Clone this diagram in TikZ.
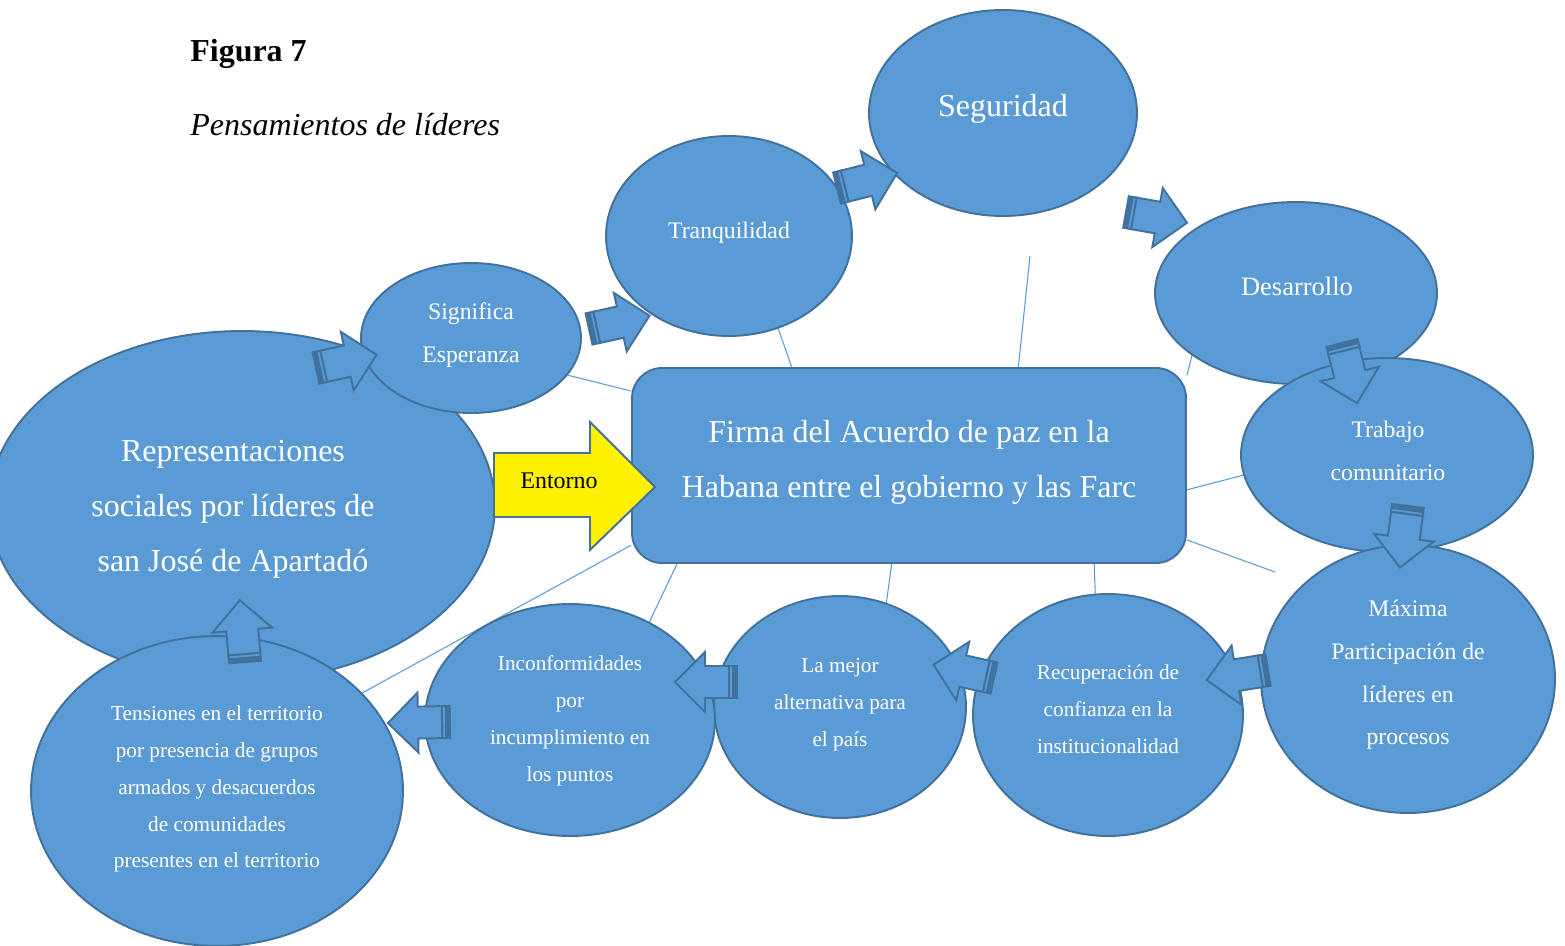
\documentclass[tikz,border=0pt]{standalone}
\usepackage{fontspec}
\setmainfont{Liberation Serif}
\usetikzlibrary{shapes.geometric}
\definecolor{blueF}{HTML}{5B9BD5}
\definecolor{bord}{HTML}{41719C}
\definecolor{lineB}{HTML}{5B9BD5}
\pgfdeclarelayer{back}
\pgfdeclarelayer{lines}
\pgfsetlayers{back,lines,main}
\newcommand\szbig{\fontsize{18.2pt}{31.3pt}\selectfont}
\newcommand\szmid{\fontsize{13.5pt}{24.3pt}\selectfont}
\newcommand\szdes{\fontsize{15.1pt}{24pt}\selectfont}
\newcommand\szsm{\fontsize{12.1pt}{21pt}\selectfont}
\tikzset{
 ell/.style={ellipse, draw=bord, fill=blueF, line width=1.1pt, inner sep=0pt},
 wt/.style={text=white, align=center, inner sep=0pt},
 conn/.style={draw=lineB, line width=0.6pt},
 blk/.style={draw=bord, fill=blueF, line width=1.1pt, line join=miter},
 sarr/.pic={
   \draw[blk] (0,-16) rectangle (8,16);
   \fill[bord] (0,-16) rectangle (5,16);
   \draw[blk] (8,-16) -- (32,-16) -- (32,-30) -- (62,0) -- (32,30) -- (32,16) -- (8,16) -- cycle;
 },
}
\begin{document}
\begin{tikzpicture}[x=0.02cm,y=-0.02cm]
\useasboundingbox (0,0) rectangle (1565,946);
\begin{pgfonlayer}{back}
\fill[white] (0,0) rectangle (1565,946);
\end{pgfonlayer}

% title
\node[anchor=base west, font=\bfseries\szbig, inner sep=0pt] (fig) at (190,62) {Figura 7};
\node[anchor=base west, font=\itshape\szbig, inner sep=0pt] (sub) at (190,135) {Pensamientos de líderes};

% ellipses
\node[ell, minimum width=10.12cm, minimum height=7cm] (rep) at (242,506) {};
\node[ell, minimum width=4.4cm, minimum height=3cm] (sig) at (471,338) {};
\node[ell, minimum width=4.92cm, minimum height=4cm] (tran) at (729,236) {};
\node[ell, minimum width=5.36cm, minimum height=4.12cm] (seg) at (1003,113) {};
\node[ell, minimum width=5.64cm, minimum height=3.64cm] (des) at (1296,293) {};
\node[ell, minimum width=5.84cm, minimum height=3.88cm] (trab) at (1387,455) {};
\node[ell, minimum width=5.88cm, minimum height=5.36cm] (max) at (1408,679) {};
\node[ell, minimum width=5.4cm, minimum height=4.84cm] (rec) at (1108,715) {};
\node[ell, minimum width=5.04cm, minimum height=4.44cm] (lam) at (840,707) {};
\node[ell, minimum width=5.8cm, minimum height=4.64cm] (inc) at (570,720) {};
\node[ell, minimum width=7.44cm, minimum height=6.2cm] (ten) at (217,791) {};

% central box
\node[draw=bord, fill=blueF, line width=1.1pt, rounded corners=0.6cm,
      minimum width=11.08cm, minimum height=3.9cm, inner sep=0pt] (rect) at (909,465.5) {};

% free ends
\coordinate (segEnd) at (1030,256);
\coordinate (maxEnd) at (1275,572);

% thin connectors
\begin{pgfonlayer}{lines}
\draw[conn] (rect.140.7) -- (tran.-62);
\draw[conn] (rect.42.1) -- (segEnd);
\draw[conn] (rect.18.8) -- (des.211.5);
\draw[conn] (rect.-5.9) -- (trab.188.8);
\draw[conn] (rect.-15.05) -- (maxEnd);
\draw[conn] (rect.-28.7) -- (rec.96.1);
\draw[conn] (rect.260.7) -- (lam.66.1);
\draw[conn] (rect.203.4) -- (inc.51.5);
\draw[conn] (rect.196) -- (ten.34.1);
\draw[conn] (rect.165.7) -- (sig.-21.1);
\end{pgfonlayer}

% Entorno arrow
\draw[draw=bord, fill=yellow, line width=1.1pt, line join=miter]
  (494,453) -- (590,453) -- (590,422) -- (655,487) -- (590,550) -- (590,517) -- (494,517) -- cycle;
\node[font=\fontsize{13.6pt}{16pt}\selectfont, inner sep=0pt] (ent) at (559,481) {Entorno};

% striped block arrows
\pic[rotate=12.4] at (316,368) {sarr};
\pic[rotate=12.4] at (589,329) {sarr};
\pic[rotate=14] at (837,188) {sarr};
\pic[rotate=-10] at (1126,212) {sarr};
\pic[rotate=-76] at (1342,343) {sarr};
\pic[rotate=-97.5] at (1408,506) {sarr};
\pic[rotate=189.3] at (1268,670) {sarr};
\pic[rotate=167.6] at (994,678) {sarr};
\pic[rotate=180] at (737,682) {sarr};
\pic[rotate=181] at (450,722) {sarr};
\pic[rotate=94.8] at (245,662) {sarr};

% texts
\node[wt, font=\szbig] (repT) at (233,509.5) {Representaciones\\sociales por líderes de\\san José de Apartadó};
\node[wt, font=\szbig] (rectT) at (909,462) {Firma del Acuerdo de paz en la\\Habana entre el gobierno y las Farc};
\node[wt, font=\szbig] (segT) at (1003,109) {Seguridad};
\node[wt, font=\szmid] (tranT) at (729,233) {Tranquilidad};
\node[wt, font=\szmid] (sigT) at (471,335) {Significa\\Esperanza};
\node[wt, font=\szdes] (desT) at (1297,286) {Desarrollo};
\node[wt, font=\szmid] (trabT) at (1388,451) {Trabajo\\comunitario};
\node[wt, font=\szmid] (maxT) at (1408,675) {Máxima\\Participación de\\líderes en\\procesos};
\node[wt, font=\szsm] (recT) at (1108,709) {Recuperación de\\confianza en la\\institucionalidad};
\node[wt, font=\szsm] (lamT) at (840,705) {La mejor\\alternativa para\\el país};
\node[wt, font=\szsm] (incT) at (570,721) {Inconformidades\\por\\incumplimiento en\\los puntos};
\node[wt, font=\szsm] (tenT) at (217,789) {Tensiones en el territorio\\por presencia de grupos\\armados y desacuerdos\\de comunidades\\presentes en el territorio};
\end{tikzpicture}
\end{document}
